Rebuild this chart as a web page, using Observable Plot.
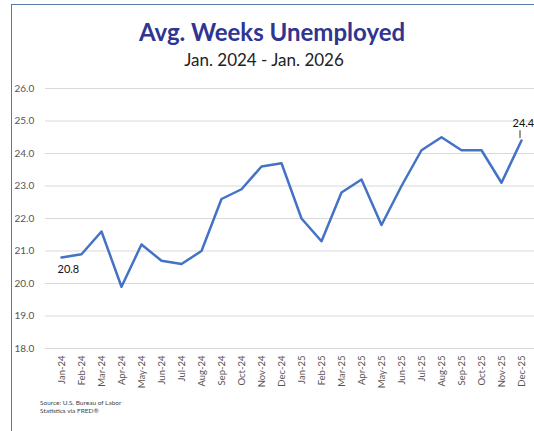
<!DOCTYPE html>
<html>
<head>
<meta charset="utf-8">
<script src="https://cdn.jsdelivr.net/npm/d3@7"></script>
<script src="https://cdn.jsdelivr.net/npm/@observablehq/plot@0.6"></script>
<style>
  html, body { margin: 0; padding: 0; background: #fff; }
  #wrap { position: relative; width: 534px; height: 431px; overflow: hidden; background: #fff; font-family: Lato, "Open Sans", sans-serif; }
  #frame { position: absolute; left: 11px; top: 4px; width: 600px; height: 600px; border-left: 1.5px solid #5a7aa6; border-top: 1.5px solid #5a7aa6; }
  #title { position: absolute; left: 0; width: 544px; top: 17px; text-align: center; font-size: 24px; font-weight: bold; color: #2f3590; }
  #subtitle { position: absolute; left: 0; width: 528px; top: 49px; text-align: center; font-size: 17px; color: #222; }
  #plot { position: absolute; left: 0; top: 0; }
  #source { position: absolute; left: 40px; top: 399px; font-size: 6.5px; line-height: 8px; color: #444; }
</style>
</head>
<body>
<div id="wrap">
  <div id="frame"></div>
  <div id="plot"></div>
  <div id="title">Avg. Weeks Unemployed</div>
  <div id="subtitle">Jan. 2024 - Jan. 2026</div>
  <div id="source">Source: U.S. Bureau of Labor<br>Statistics via FRED®</div>
</div>
<script>
const months = ["Jan-24","Feb-24","Mar-24","Apr-24","May-24","Jun-24","Jul-24","Aug-24","Sep-24","Oct-24","Nov-24","Dec-24",
                "Jan-25","Feb-25","Mar-25","Apr-25","May-25","Jun-25","Jul-25","Aug-25","Sep-25","Oct-25","Nov-25","Dec-25"];
const weeks = [20.8, 20.9, 21.6, 19.9, 21.2, 20.7, 20.6, 21.0, 22.6, 22.9, 23.6, 23.7,
               22.0, 21.3, 22.8, 23.2, 21.8, 23.0, 24.1, 24.5, 24.1, 24.1, 23.1, 24.4];
const yTicks = [18, 19, 20, 21, 22, 23, 24, 25, 26];

const data = months.map((m, i) => ({month: m, value: weeks[i]}));
const first = [data[0]];
const last = [data[data.length - 1]];

const chart = Plot.plot({
  width: 534,
  height: 431,
  marginLeft: 48,
  marginRight: 0,
  marginTop: 88,
  marginBottom: 83,
  style: {fontFamily: "Lato, 'Open Sans', sans-serif", background: "transparent"},
  x: {type: "point", domain: months, padding: 0.5},
  y: {domain: [18, 26], axis: null},
  marks: [
    Plot.ruleY(yTicks, {stroke: "#d9d9d9", strokeWidth: 1, insetLeft: -3, insetRight: -20}),
    Plot.text(yTicks, {y: d => d, text: d => d.toFixed(1), frameAnchor: "left", dx: -34, textAnchor: "start", fontSize: 10, fill: "#555"}),
    Plot.axisX({tickRotate: -90, tickSize: 0, tickPadding: 7, fontSize: 9.5, fill: "#555", label: null}),
    Plot.lineY(data, {x: "month", y: "value", stroke: "#4472c4", strokeWidth: 2.5, strokeLinejoin: "round"}),
    Plot.text(first, {x: "month", y: "value", text: d => d.value.toFixed(1), textAnchor: "start", dx: -4, dy: 12, fontSize: 11, fill: "#111"}),
    Plot.ruleX(last, {x: "month", y1: d => d.value + 0.06, y2: d => d.value + 0.3, dx: -1.5, stroke: "#333", strokeWidth: 1}),
    Plot.text(last, {x: "month", y: "value", text: d => d.value.toFixed(1), textAnchor: "start", dx: -9, dy: -17, fontSize: 11, fill: "#111"})
  ]
});
document.getElementById("plot").appendChild(chart);
</script>
</body>
</html>
